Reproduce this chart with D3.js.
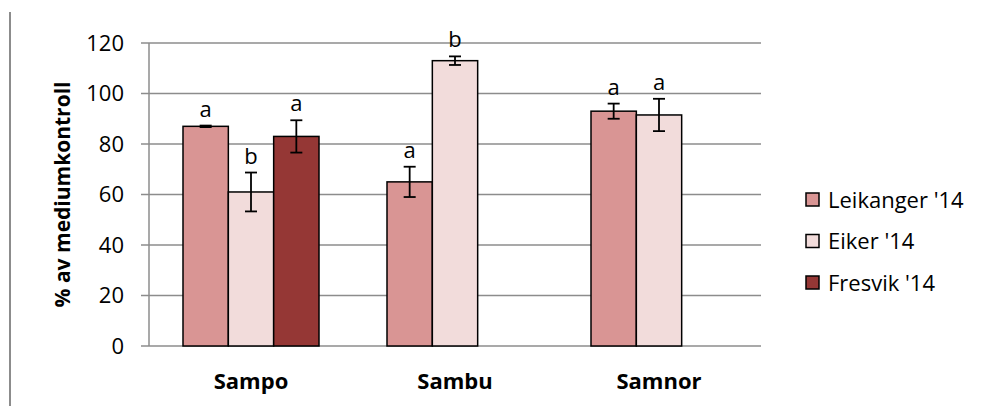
<!DOCTYPE html>
<html>
<head>
<meta charset="utf-8">
<script src="https://cdn.jsdelivr.net/npm/d3@7"></script>
<style>
  html, body { margin: 0; padding: 0; background: #fff; }
  svg { display: block; font-family: "Open Sans", "Noto Sans", sans-serif; }
</style>
</head>
<body>
<svg id="chart" width="981" height="406"></svg>
<script>
// Cultivars on the x axis, one bar per seed lot
const categories = ["Sampo", "Sambu", "Samnor"];
const seriesNames = ["Leikanger '14", "Eiker '14", "Fresvik '14"];
const seriesColors = ["#d99594", "#f2dcdb", "#953735"];

// Mean germination as % of the medium control (null = not tested)
const leikanger = [87, 65, 93];
const eiker = [61, 113, 91.5];
const fresvik = [83, null, null];

// Standard errors for the error bars
const leikangerErr = [0.3, 6, 3];
const eikerErr = [7.7, 1.7, 6.4];
const fresvikErr = [6.4, null, null];

// Significance letters above each bar
const leikangerSig = ["a", "a", "a"];
const eikerSig = ["b", "b", "a"];
const fresvikSig = ["a", null, null];

const yTicks = [0, 20, 40, 60, 80, 100, 120];

const seriesValues = [leikanger, eiker, fresvik];
const seriesErrors = [leikangerErr, eikerErr, fresvikErr];
const seriesLetters = [leikangerSig, eikerSig, fresvikSig];

const svg = d3.select("#chart");
const plot = { left: 149, right: 761, top: 43, bottom: 346 };

// Three slots per group, gap between groups = 1.5 bar widths
const x = d3.scaleBand().domain(categories).range([plot.left, plot.right])
  .paddingInner(1 / 3).paddingOuter(1 / 6);
const xSub = d3.scaleBand().domain(d3.range(seriesNames.length)).range([0, x.bandwidth()]);
const y = d3.scaleLinear().domain([0, 120]).range([plot.bottom, plot.top]);

// Frame line at the left edge of the figure
svg.append("line")
  .attr("x1", 10).attr("x2", 10).attr("y1", 12).attr("y2", 406)
  .attr("stroke", "#8c8c8c").attr("stroke-width", 2);

// Gridlines with short ticks to the left of the axis
const grid = svg.append("g");
grid.selectAll("line").data(yTicks).join("line")
  .attr("x1", plot.left - 8).attr("x2", plot.right)
  .attr("y1", d => y(d)).attr("y2", d => y(d))
  .attr("stroke", "#8c8c8c").attr("stroke-width", 1.5);

svg.append("line")
  .attr("x1", plot.left).attr("x2", plot.left)
  .attr("y1", y(120)).attr("y2", y(0))
  .attr("stroke", "#8c8c8c").attr("stroke-width", 1.5);

// Y tick labels
svg.append("g").selectAll("text").data(yTicks).join("text")
  .attr("x", 124).attr("y", d => y(d))
  .attr("dy", "0.35em").attr("text-anchor", "end")
  .attr("font-size", 22).attr("fill", "#000")
  .text(d => d);

// Y axis title
svg.append("text")
  .attr("transform", `translate(70,${(plot.top + plot.bottom) / 2}) rotate(-90)`)
  .attr("text-anchor", "middle")
  .attr("font-size", 21).attr("font-weight", "bold")
  .text("% av mediumkontroll");

// Bars, error bars and letters
const bars = [];
seriesValues.forEach((vals, s) => {
  vals.forEach((v, i) => {
    if (v == null) return;
    bars.push({ s, cat: categories[i], v, err: seriesErrors[s][i], sig: seriesLetters[s][i] });
  });
});

const barG = svg.append("g");
barG.selectAll("rect").data(bars).join("rect")
  .attr("x", d => x(d.cat) + xSub(d.s))
  .attr("y", d => y(d.v))
  .attr("width", xSub.bandwidth())
  .attr("height", d => y(0) - y(d.v))
  .attr("fill", d => seriesColors[d.s])
  .attr("stroke", "#000").attr("stroke-width", 1.5);

const errG = svg.append("g").attr("stroke", "#000").attr("stroke-width", 1.8);
bars.forEach(d => {
  const cx = x(d.cat) + xSub(d.s) + xSub.bandwidth() / 2;
  const y1 = y(d.v + d.err), y2 = y(d.v - d.err);
  errG.append("line").attr("x1", cx).attr("x2", cx).attr("y1", y1).attr("y2", y2);
  errG.append("line").attr("x1", cx - 6).attr("x2", cx + 6).attr("y1", y1).attr("y2", y1);
  errG.append("line").attr("x1", cx - 6).attr("x2", cx + 6).attr("y1", y2).attr("y2", y2);
});

svg.append("g").selectAll("text").data(bars).join("text")
  .attr("x", d => x(d.cat) + xSub(d.s) + xSub.bandwidth() / 2)
  .attr("y", d => y(d.v + d.err) - 9)
  .attr("text-anchor", "middle")
  .attr("font-size", 22)
  .text(d => d.sig);

// Category labels
svg.append("g").selectAll("text").data(categories).join("text")
  .attr("x", d => x(d) + x.bandwidth() / 2)
  .attr("y", 389)
  .attr("text-anchor", "middle")
  .attr("font-size", 22).attr("font-weight", "bold")
  .text(d => d);

// Legend
const legend = svg.append("g").attr("transform", "translate(806,193)");
const item = legend.selectAll("g").data(seriesNames).join("g")
  .attr("transform", (d, i) => `translate(0,${i * 41.5})`);
item.append("rect")
  .attr("width", 13).attr("height", 13)
  .attr("fill", (d, i) => seriesColors[i])
  .attr("stroke", "#000").attr("stroke-width", 1.5);
item.append("text")
  .attr("x", 22).attr("y", 7).attr("dy", "0.35em")
  .attr("font-size", 22)
  .text(d => d);
</script>
</body>
</html>
